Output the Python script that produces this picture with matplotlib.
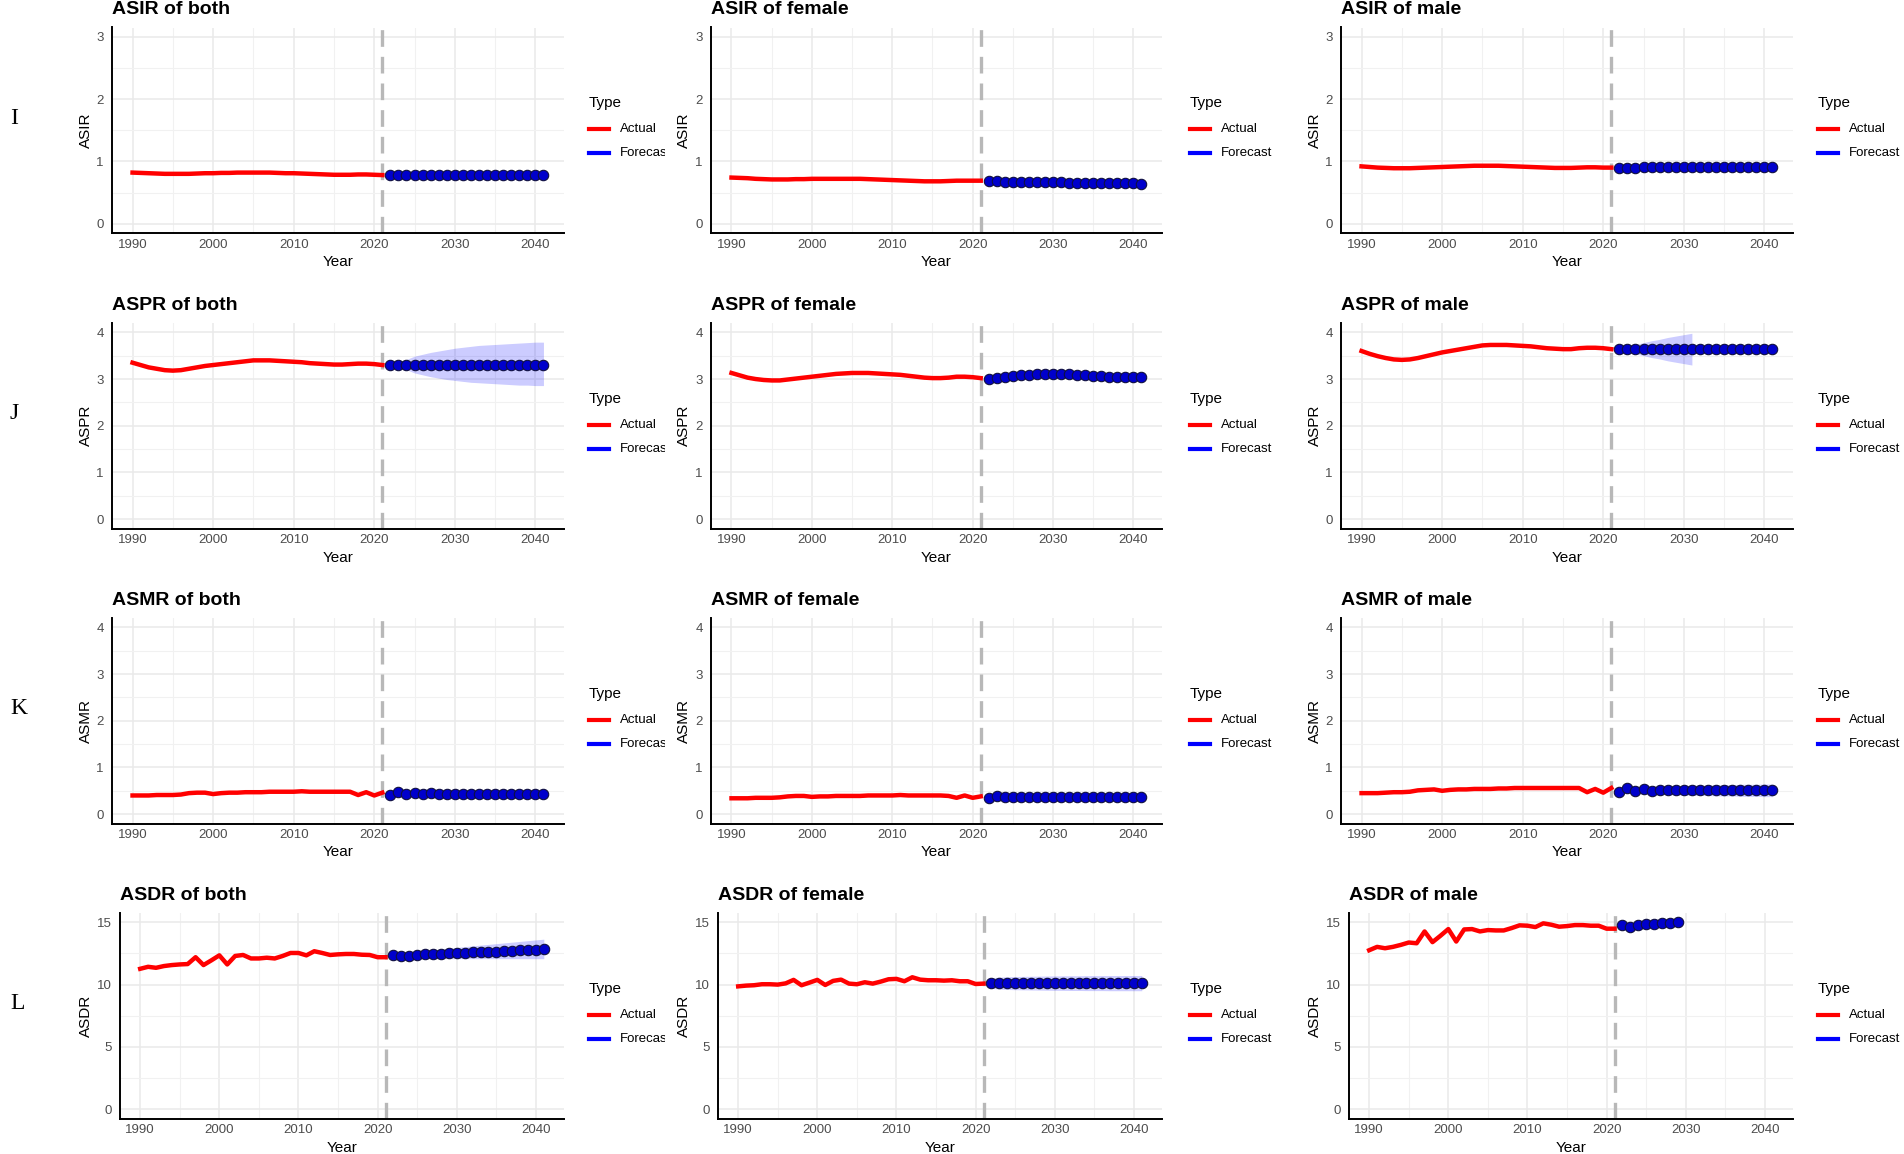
import matplotlib
matplotlib.use("Agg")
from matplotlib import pyplot as plt
from matplotlib.lines import Line2D
from matplotlib.ticker import MultipleLocator
from matplotlib.transforms import Bbox, TransformedBbox

plt.rcParams["font.family"] = ["Liberation Sans", "DejaVu Sans"]

# ---- data ----
yearsActual = list(range(1990, 2022))
yearsForecast = list(range(2022, 2042))
yearsForecastShort = list(range(2022, 2030))
yearsRibbonShort = list(range(2022, 2032))

asirBothActual = [0.82, 0.815, 0.81, 0.805, 0.80, 0.80, 0.80, 0.80, 0.805, 0.81,
                  0.81, 0.815, 0.815, 0.82, 0.82, 0.82, 0.82, 0.82, 0.815, 0.81,
                  0.81, 0.805, 0.80, 0.795, 0.79, 0.785, 0.785, 0.785, 0.79, 0.79,
                  0.785, 0.78]
asirBothForecast = [0.78, 0.78, 0.78, 0.78, 0.78, 0.78, 0.78, 0.78, 0.78, 0.78,
                    0.78, 0.78, 0.78, 0.78, 0.78, 0.78, 0.78, 0.78, 0.78, 0.78]

asirFemaleActual = [0.74, 0.735, 0.73, 0.72, 0.715, 0.71, 0.71, 0.71, 0.715, 0.715,
                    0.72, 0.72, 0.72, 0.72, 0.72, 0.72, 0.72, 0.715, 0.71, 0.705,
                    0.70, 0.695, 0.69, 0.685, 0.68, 0.68, 0.68, 0.685, 0.69, 0.69,
                    0.69, 0.69]
asirFemaleForecast = [0.68, 0.678, 0.676, 0.674, 0.672, 0.67, 0.668, 0.666, 0.664, 0.662,
                      0.66, 0.658, 0.656, 0.654, 0.652, 0.65, 0.648, 0.646, 0.645, 0.644]

asirMaleActual = [0.92, 0.91, 0.90, 0.895, 0.89, 0.89, 0.89, 0.895, 0.90, 0.905,
                  0.91, 0.915, 0.92, 0.925, 0.93, 0.93, 0.93, 0.93, 0.925, 0.92,
                  0.915, 0.91, 0.905, 0.90, 0.895, 0.895, 0.895, 0.90, 0.905, 0.905,
                  0.90, 0.90]
asirMaleForecast = [0.89, 0.895, 0.90, 0.905, 0.905, 0.91, 0.91, 0.91, 0.91, 0.91,
                    0.91, 0.91, 0.905, 0.905, 0.905, 0.905, 0.905, 0.905, 0.905, 0.905]

asprBothActual = [3.35, 3.30, 3.25, 3.22, 3.19, 3.18, 3.19, 3.22, 3.25, 3.28,
                  3.30, 3.32, 3.34, 3.36, 3.38, 3.40, 3.40, 3.40, 3.39, 3.38,
                  3.37, 3.36, 3.34, 3.33, 3.32, 3.31, 3.31, 3.32, 3.33, 3.33,
                  3.32, 3.30]
asprBothForecast = [3.31, 3.31, 3.31, 3.31, 3.31, 3.31, 3.31, 3.31, 3.31, 3.31,
                    3.31, 3.31, 3.31, 3.31, 3.31, 3.31, 3.31, 3.31, 3.31, 3.31]
asprBothUpper = [3.33, 3.37, 3.42, 3.49, 3.53, 3.57, 3.60, 3.63, 3.66, 3.68,
                 3.70, 3.72, 3.73, 3.74, 3.75, 3.76, 3.77, 3.78, 3.79, 3.79]
asprBothLower = [3.29, 3.25, 3.20, 3.13, 3.09, 3.05, 3.02, 2.99, 2.97, 2.95,
                 2.93, 2.92, 2.91, 2.90, 2.89, 2.88, 2.87, 2.87, 2.86, 2.86]

asprFemaleActual = [3.13, 3.08, 3.03, 3.00, 2.98, 2.97, 2.97, 2.99, 3.01, 3.03,
                    3.05, 3.07, 3.09, 3.11, 3.12, 3.13, 3.13, 3.13, 3.12, 3.11,
                    3.10, 3.09, 3.07, 3.05, 3.03, 3.02, 3.02, 3.03, 3.05, 3.05,
                    3.04, 3.02]
asprFemaleForecast = [3.01, 3.03, 3.05, 3.07, 3.08, 3.09, 3.10, 3.11, 3.11, 3.11,
                      3.10, 3.09, 3.08, 3.07, 3.06, 3.05, 3.04, 3.04, 3.04, 3.04]
asprFemaleUpper = [3.05, 3.08, 3.10, 3.12, 3.14, 3.15, 3.16, 3.17, 3.17, 3.17,
                   3.16, 3.15, 3.14, 3.13, 3.12, 3.11, 3.10, 3.10, 3.10, 3.10]
asprFemaleLower = [2.97, 2.98, 3.00, 3.02, 3.02, 3.03, 3.04, 3.05, 3.05, 3.05,
                   3.04, 3.03, 3.02, 3.01, 3.00, 2.99, 2.98, 2.98, 2.98, 2.98]

asprMaleActual = [3.60, 3.54, 3.49, 3.45, 3.42, 3.41, 3.42, 3.45, 3.49, 3.53,
                  3.57, 3.60, 3.63, 3.66, 3.69, 3.72, 3.73, 3.73, 3.73, 3.72,
                  3.71, 3.70, 3.68, 3.66, 3.65, 3.64, 3.64, 3.66, 3.67, 3.67,
                  3.66, 3.64]
asprMaleForecast = [3.64, 3.64, 3.64, 3.64, 3.64, 3.64, 3.64, 3.64, 3.64, 3.64,
                    3.64, 3.64, 3.64, 3.64, 3.64, 3.64, 3.64, 3.64, 3.64, 3.64]
asprMaleUpper = [3.66, 3.70, 3.74, 3.78, 3.82, 3.85, 3.89, 3.92, 3.95, 3.98]
asprMaleLower = [3.62, 3.58, 3.54, 3.50, 3.46, 3.43, 3.39, 3.36, 3.33, 3.30]

asmrBothActual = [0.40, 0.40, 0.40, 0.41, 0.41, 0.41, 0.42, 0.45, 0.46, 0.46,
                  0.43, 0.45, 0.46, 0.46, 0.47, 0.47, 0.47, 0.48, 0.48, 0.48,
                  0.48, 0.49, 0.48, 0.48, 0.48, 0.48, 0.48, 0.48, 0.41, 0.47,
                  0.40, 0.46]
asmrBothForecast = [0.41, 0.47, 0.43, 0.46, 0.44, 0.45, 0.44, 0.44, 0.44, 0.44,
                    0.44, 0.44, 0.44, 0.44, 0.44, 0.44, 0.44, 0.44, 0.44, 0.44]

asmrFemaleActual = [0.34, 0.34, 0.34, 0.35, 0.35, 0.35, 0.36, 0.38, 0.39, 0.39,
                    0.37, 0.38, 0.38, 0.39, 0.39, 0.39, 0.39, 0.40, 0.40, 0.40,
                    0.40, 0.41, 0.40, 0.40, 0.40, 0.40, 0.40, 0.39, 0.35, 0.40,
                    0.35, 0.38]
asmrFemaleForecast = [0.35, 0.38, 0.36, 0.37, 0.36, 0.37, 0.36, 0.37, 0.365, 0.365,
                      0.365, 0.365, 0.365, 0.365, 0.365, 0.365, 0.365, 0.365, 0.365, 0.365]

asmrMaleActual = [0.45, 0.45, 0.45, 0.46, 0.47, 0.47, 0.48, 0.51, 0.52, 0.53,
                  0.50, 0.52, 0.53, 0.53, 0.54, 0.54, 0.54, 0.55, 0.55, 0.56,
                  0.56, 0.56, 0.56, 0.56, 0.56, 0.56, 0.56, 0.56, 0.47, 0.54,
                  0.46, 0.56]
asmrMaleForecast = [0.47, 0.55, 0.49, 0.53, 0.50, 0.52, 0.51, 0.51, 0.51, 0.51,
                    0.51, 0.51, 0.51, 0.51, 0.51, 0.51, 0.51, 0.51, 0.51, 0.51]
asmrMaleUpper = [0.49, 0.58, 0.54, 0.59, 0.58, 0.60, 0.60, 0.61, 0.61, 0.62,
                 0.62, 0.62, 0.63, 0.63, 0.63, 0.64, 0.64, 0.64, 0.645, 0.645]
asmrMaleLower = [0.45, 0.52, 0.44, 0.47, 0.42, 0.44, 0.42, 0.41, 0.41, 0.40,
                 0.40, 0.40, 0.39, 0.39, 0.39, 0.38, 0.38, 0.38, 0.375, 0.375]

asdrBothActual = [11.27, 11.43, 11.35, 11.49, 11.57, 11.62, 11.65, 12.20, 11.57, 11.95,
                  12.35, 11.62, 12.30, 12.38, 12.10, 12.10, 12.16, 12.10, 12.30, 12.54,
                  12.54, 12.35, 12.68, 12.54, 12.38, 12.43, 12.46, 12.46, 12.40, 12.38,
                  12.20, 12.20]
asdrBothForecast = [12.35, 12.27, 12.32, 12.40, 12.42, 12.45, 12.47, 12.50, 12.52, 12.55,
                    12.58, 12.60, 12.63, 12.65, 12.68, 12.71, 12.74, 12.77, 12.80, 12.84]
asdrBothUpper = [12.40, 12.45, 12.52, 12.62, 12.70, 12.78, 12.85, 12.92, 12.98, 13.05,
                 13.11, 13.17, 13.23, 13.29, 13.35, 13.41, 13.47, 13.53, 13.59, 13.65]
asdrBothLower = [12.30, 12.20, 12.12, 12.10, 12.08, 12.08, 12.08, 12.08, 12.08, 12.08,
                 12.08, 12.08, 12.08, 12.08, 12.08, 12.08, 12.08, 12.08, 12.08, 12.08]

asdrFemaleActual = [9.86, 9.92, 9.95, 10.03, 10.03, 10.00, 10.10, 10.38, 9.95, 10.16,
                    10.38, 9.97, 10.30, 10.40, 10.08, 10.03, 10.19, 10.08, 10.24, 10.43,
                    10.46, 10.27, 10.59, 10.40, 10.35, 10.35, 10.32, 10.35, 10.27, 10.27,
                    10.05, 10.08]
asdrFemaleForecast = [10.12, 10.12, 10.12, 10.12, 10.12, 10.12, 10.12, 10.12, 10.12, 10.12,
                      10.12, 10.12, 10.12, 10.12, 10.12, 10.12, 10.12, 10.12, 10.12, 10.12]
asdrFemaleUpper = [10.55, 10.60, 10.63, 10.65, 10.66, 10.67, 10.68, 10.69, 10.70, 10.70,
                   10.71, 10.71, 10.72, 10.72, 10.72, 10.73, 10.73, 10.73, 10.73, 10.73]
asdrFemaleLower = [9.69, 9.64, 9.61, 9.59, 9.58, 9.57, 9.56, 9.55, 9.54, 9.54,
                   9.53, 9.53, 9.52, 9.52, 9.52, 9.51, 9.51, 9.51, 9.51, 9.51]

asdrMaleActual = [12.76, 13.03, 12.92, 13.03, 13.19, 13.38, 13.32, 14.27, 13.41, 13.92,
                  14.46, 13.46, 14.43, 14.46, 14.27, 14.38, 14.35, 14.35, 14.54, 14.76,
                  14.73, 14.62, 14.92, 14.81, 14.65, 14.70, 14.78, 14.78, 14.73, 14.73,
                  14.49, 14.49]
asdrMaleForecast = [14.78, 14.65, 14.76, 14.86, 14.84, 14.92, 14.97, 15.00]

rowLabels = ["I", "J", "K", "L"]
measures = ["ASIR", "ASPR", "ASMR", "ASDR"]
groups = ["both", "female", "male"]
yMax = [3, 4, 4, 15]
yStep = [1, 1, 1, 5]

# (actual, forecast years, forecast, ribbon years, lower, upper)
panels = [
    [(asirBothActual, yearsForecast, asirBothForecast, None, None, None),
     (asirFemaleActual, yearsForecast, asirFemaleForecast, None, None, None),
     (asirMaleActual, yearsForecast, asirMaleForecast, None, None, None)],
    [(asprBothActual, yearsForecast, asprBothForecast, yearsForecast, asprBothLower, asprBothUpper),
     (asprFemaleActual, yearsForecast, asprFemaleForecast, yearsForecast, asprFemaleLower, asprFemaleUpper),
     (asprMaleActual, yearsForecast, asprMaleForecast, yearsRibbonShort, asprMaleLower, asprMaleUpper)],
    [(asmrBothActual, yearsForecast, asmrBothForecast, None, None, None),
     (asmrFemaleActual, yearsForecast, asmrFemaleForecast, None, None, None),
     (asmrMaleActual, yearsForecast, asmrMaleForecast, yearsForecast, asmrMaleLower, asmrMaleUpper)],
    [(asdrBothActual, yearsForecast, asdrBothForecast, yearsForecast, asdrBothLower, asdrBothUpper),
     (asdrFemaleActual, yearsForecast, asdrFemaleForecast, yearsForecast, asdrFemaleLower, asdrFemaleUpper),
     (asdrMaleActual, yearsForecastShort, asdrMaleForecast, None, None, None)],
]

# ---- layout (pixels) ----
W, H = 1904, 1154
fig = plt.figure(figsize=(W / 100, H / 100), dpi=100)
fig.patch.set_facecolor("white")


def fx(px):
    return px / W


def fy(py):
    return 1 - py / H


rowTops = [27.5, 323, 618, 913]
rowH = 205.5
colSpans = [(112, 564), (711, 1162), (1341, 1793)]
colSpansWide = [(120, 564), (718, 1162), (1349, 1793)]
yLabelX = [86, 684, 1315]
legendX = [589, 1190, 1818]
clipRight = [665, 1290, W]

for r in range(4):
    top = rowTops[r]
    bottom = top + rowH
    cy = (top + bottom) / 2
    fig.text(fx(10), fy(cy - 12), rowLabels[r], family="Liberation Serif",
             fontsize=17, ha="left", va="center")
    for c in range(3):
        left, right = colSpansWide[c] if r == 3 else colSpans[c]
        actual, fcYears, forecast, ribYears, lower, upper = panels[r][c]
        ax = fig.add_axes([fx(left), fy(bottom), fx(right) - fx(left), rowH / H])

        ax.set_xlim(1987.45, 2043.55)
        ax.set_ylim(-0.05 * yMax[r], 1.05 * yMax[r])
        ax.xaxis.set_major_locator(MultipleLocator(10))
        ax.xaxis.set_minor_locator(MultipleLocator(5))
        ax.yaxis.set_major_locator(MultipleLocator(yStep[r]))
        ax.yaxis.set_minor_locator(MultipleLocator(yStep[r] / 2))
        ax.grid(which="major", color="#EAEAEA", linewidth=1.1)
        ax.grid(which="minor", color="#F1F1F1", linewidth=0.8)
        ax.set_axisbelow(True)
        for side in ["top", "right"]:
            ax.spines[side].set_visible(False)
        for side in ["left", "bottom"]:
            ax.spines[side].set_color("black")
            ax.spines[side].set_linewidth(1.4)
        ax.tick_params(which="both", length=0, labelsize=9.5, labelcolor="#4D4D4D")
        ax.tick_params(axis="x", pad=4)
        ax.tick_params(axis="y", pad=6)

        if ribYears is not None:
            ax.fill_between(ribYears, lower, upper, color="#0000FF", alpha=0.2,
                            linewidth=0, zorder=2)
        ax.axvline(2021, color="#B8B8B8", linewidth=2.4, linestyle=(0, (5, 3)), zorder=2.5)
        ax.plot(yearsActual, actual, color="#FF0000", linewidth=3.2,
                solid_joinstyle="round", zorder=3)
        ax.plot(fcYears, forecast, color="#0000FF", linewidth=2.5, zorder=3)
        ax.plot(fcYears, forecast, "o", markersize=7.5, markerfacecolor="#0000CC",
                markeredgecolor="#101040", markeredgewidth=0.8, zorder=4)

        fig.text(fx(left), fy(top - 18), f"{measures[r]} of {groups[c]}",
                 fontsize=14, fontweight="bold", ha="left", va="center")
        fig.text(fx(yLabelX[c]), fy(cy), measures[r], fontsize=11, rotation=90,
                 ha="center", va="center")
        fig.text(fx((left + right) / 2), fy(bottom + 29), "Year", fontsize=11,
                 ha="center", va="center")

        # legend, clipped at the panel edge like the source figure
        clip = TransformedBbox(Bbox.from_extents(0, 0, fx(clipRight[c]), 1), fig.transFigure)
        lx = legendX[c]
        t = fig.text(fx(lx), fy(cy - 27), "Type", fontsize=11, ha="left", va="center")
        t.set_clip_box(clip)
        for dy, lbl, col in [(-1, "Actual", "#FF0000"), (23, "Forecast", "#0000FF")]:
            fig.add_artist(Line2D([fx(lx), fx(lx + 20)], [fy(cy + dy), fy(cy + dy)],
                                  color=col, linewidth=3, transform=fig.transFigure))
            t = fig.text(fx(lx + 31), fy(cy + dy), lbl, fontsize=9.5, ha="left", va="center")
            t.set_clip_box(clip)

plt.savefig("out.png", dpi=100, facecolor="white")
